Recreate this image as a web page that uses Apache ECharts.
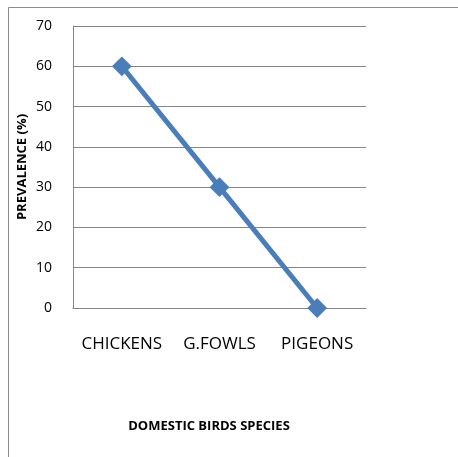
<!DOCTYPE html>
<html><head><meta charset="utf-8">
<script src="https://cdn.jsdelivr.net/npm/echarts@6/dist/echarts.min.js"></script>
<style>html,body{margin:0;padding:0;background:#fff}#c{width:458px;height:457px}</style>
</head><body><div id="c"></div>
<script>
const categories = ["CHICKENS", "G.FOWLS", "PIGEONS"];
const prevalence = [60, 30, 0];
const yTicks = [0, 10, 20, 30, 40, 50, 60, 70];
const yTitle = "PREVALENCE (%)";
const xTitle = "DOMESTIC BIRDS SPECIES";

const chart = echarts.init(document.getElementById('c'), null, {renderer: 'canvas'});
chart.setOption({
  animation: false,
  backgroundColor: '#fff',
  title: {
    text: xTitle, left: 204, top: 415, textAlign: 'center',
    textStyle: {fontFamily: 'Open Sans', fontSize: 13, fontWeight: 'bold', color: '#000'}
  },
  graphic: [
    {type: 'line', shape: {x1: 8.5, y1: 7.5, x2: 458, y2: 7.5}, style: {stroke: '#8c8c8c', lineWidth: 1}},
    {type: 'line', shape: {x1: 8.5, y1: 7.5, x2: 8.5, y2: 457}, style: {stroke: '#8c8c8c', lineWidth: 1}}
  ],
  grid: {left: 73, right: 92, top: 26, bottom: 149, containLabel: false},
  xAxis: {
    type: 'category', data: categories, boundaryGap: true,
    axisLine: {show: true, lineStyle: {color: '#868686'}},
    axisTick: {show: false},
    axisLabel: {interval: 0, hideOverlap: false, margin: 28, fontFamily: 'Open Sans', fontSize: 17, color: '#000'}
  },
  yAxis: {
    type: 'value', min: yTicks[0], max: yTicks[yTicks.length - 1], interval: 10,
    name: yTitle, nameLocation: 'middle', nameGap: 44, nameMoveOverlap: false,
    nameTextStyle: {fontFamily: 'Open Sans', fontSize: 13, fontWeight: 'bold', color: '#000'},
    axisLine: {show: true, lineStyle: {color: '#868686'}},
    axisTick: {show: false},
    splitLine: {show: true, lineStyle: {color: '#868686', width: 1}},
    axisLabel: {margin: 21, fontFamily: 'Open Sans', fontSize: 14, color: '#000'}
  },
  series: [{
    type: 'line', data: prevalence,
    lineStyle: {color: '#4a7ebb', width: 5},
    itemStyle: {color: '#4a7ebb'},
    symbol: 'rect', symbolSize: 14, symbolRotate: 45,
    showAllSymbol: true
  }]
});
</script></body></html>
